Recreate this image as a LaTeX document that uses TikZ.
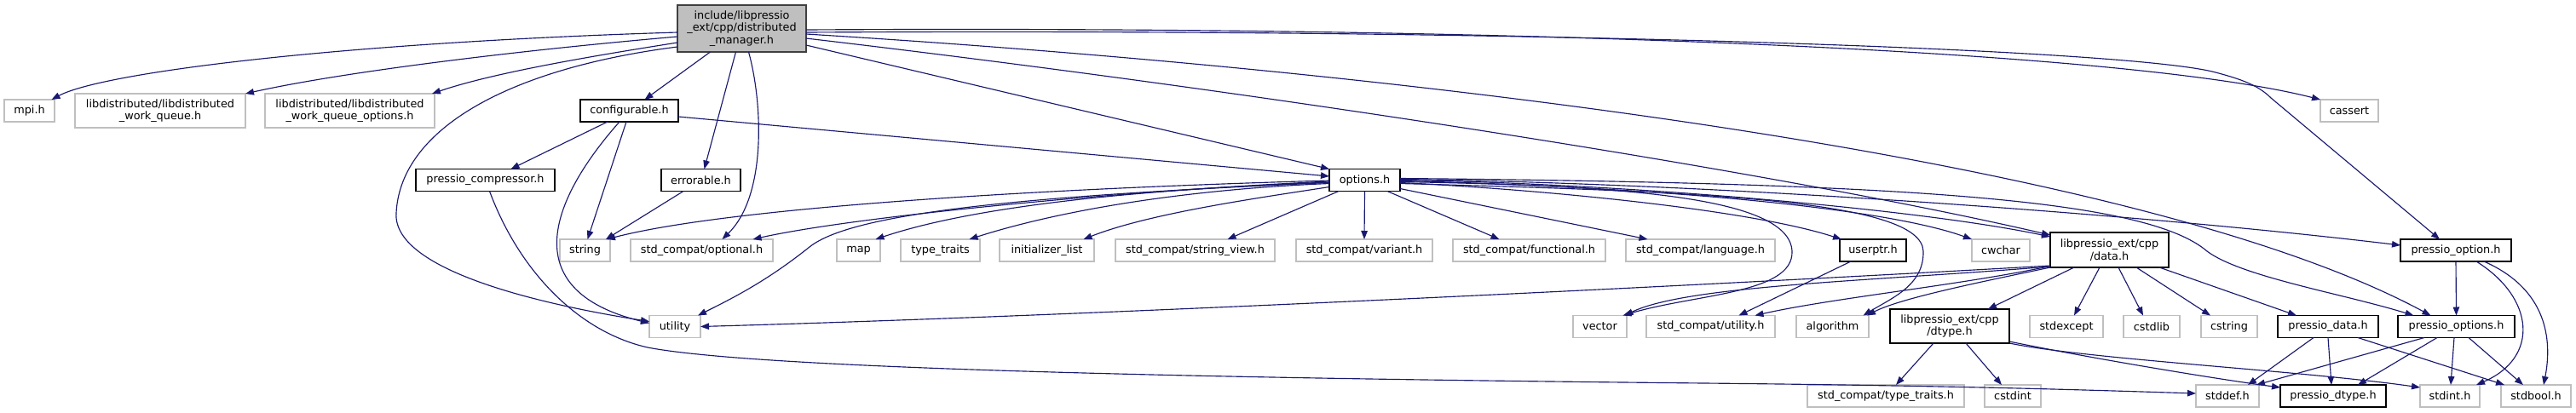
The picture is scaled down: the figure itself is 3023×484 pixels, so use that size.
\documentclass[tikz,border=0pt]{standalone}
\usepackage{fontspec}
\setmainfont{DejaVu Sans}
\usetikzlibrary{arrows.meta,calc}
\definecolor{gsev}{HTML}{BFBFBF}
\definecolor{edgeblue}{HTML}{191970}
\begin{document}
\begin{tikzpicture}[x=0.02cm,y=-0.02cm,
 every node/.style={font=\fontsize{7.3}{8.3}\selectfont, inner sep=0pt, outer sep=0pt, align=center},
 wh/.style 2 args={minimum width=#1*0.02cm, minimum height=#2*0.02cm},
 sys/.style={draw=gsev, line width=0.7pt, fill=white},
 doc/.style={draw=black, line width=1.1pt, fill=white},
 root/.style={draw=black!75, line width=1.1pt, fill=gsev},
 dep/.style={draw=edgeblue, line width=0.65pt, -{Triangle[length=0.2cm,width=0.15cm]}},
]
\useasboundingbox (0,0) rectangle (3023,484);
% rank 0
\node[root, wh={151}{55}] (main) at (870.5,33.5) {include/libpressio\\\_ext/cpp/distributed\\\_manager.h};
% rank 1
\node[sys, wh={59}{26}] (mpi) at (34.5,130) {mpi.h};
\node[sys, wh={200}{40}] (wq) at (188,130) {libdistributed/libdistributed\\\_work\_queue.h};
\node[sys, wh={199}{40}] (wqo) at (410.5,130) {libdistributed/libdistributed\\\_work\_queue\_options.h};
\node[doc, wh={115}{26}] (conf) at (738.5,130) {configurable.h};
\node[sys, wh={68}{26}] (cassert) at (2757,130) {cassert};
% rank 2
\node[doc, wh={163}{26}] (comp) at (569.5,211.5) {pressio\_compressor.h};
\node[doc, wh={93}{26}] (err) at (822.5,211.5) {errorable.h};
\node[doc, wh={83}{26}] (opts) at (1601.5,211.5) {options.h};
% rank 3
\node[sys, wh={59}{26}] (string) at (686.5,294) {string};
\node[sys, wh={167}{26}] (optional) at (823.5,294) {std\_compat/optional.h};
\node[sys, wh={51}{26}] (map) at (1007.5,294) {map};
\node[sys, wh={93}{26}] (typetraits) at (1103.5,294) {type\_traits};
\node[sys, wh={111}{26}] (initlist) at (1228.5,294) {initializer\_list};
\node[sys, wh={187}{26}] (strview) at (1402.5,294) {std\_compat/string\_view.h};
\node[sys, wh={160}{26}] (variant) at (1601,294) {std\_compat/variant.h};
\node[sys, wh={179}{26}] (functional) at (1794.5,294) {std\_compat/functional.h};
\node[sys, wh={175}{26}] (language) at (1995.5,294) {std\_compat/language.h};
\node[doc, wh={78}{26}] (userptr) at (2198,294) {userptr.h};
\node[sys, wh={68}{26}] (cwchar) at (2348,294) {cwchar};
\node[doc, wh={139}{41}] (data) at (2475.5,293.5) {libpressio\_ext/cpp\\/data.h};
\node[doc, wh={130}{26}] (option) at (2882,294) {pressio\_option.h};
% rank 4
\node[sys, wh={60}{26}] (utility) at (792,383.5) {utility};
\node[sys, wh={63}{26}] (vector) at (1877.5,383.5) {vector};
\node[sys, wh={151}{26}] (stdutil) at (2007.5,383.5) {std\_compat/utility.h};
\node[sys, wh={85}{26}] (algorithm) at (2150.5,383.5) {algorithm};
\node[doc, wh={140}{40}] (dtype) at (2288,383) {libpressio\_ext/cpp\\/dtype.h};
\node[sys, wh={86}{26}] (stdexcept) at (2425,383.5) {stdexcept};
\node[sys, wh={66}{26}] (cstdlib) at (2525,383.5) {cstdlib};
\node[sys, wh={66}{26}] (cstring) at (2616,383.5) {cstring};
\node[doc, wh={118}{26}] (pdata) at (2732,383.5) {pressio\_data.h};
\node[doc, wh={137}{26}] (poptions) at (2882.5,383.5) {pressio\_options.h};
% rank 5
\node[sys, wh={184}{26}] (sctt) at (2213,465) {std\_compat/type\_traits.h};
\node[sys, wh={66}{26}] (cstdint) at (2362,465) {cstdint};
\node[sys, wh={74}{26}] (stddef) at (2614,465) {stddef.h};
\node[doc, wh={124}{26}] (pdtype) at (2738,465) {pressio\_dtype.h};
\node[sys, wh={70}{26}] (stdint) at (2875,465) {stdint.h};
\node[sys, wh={82}{26}] (stdbool) at (2976,465) {stdbool.h};

% main
\draw[dep] ($(main.west)+(0,4.5)$) .. controls (400,50) and (120,85) .. ($(mpi.north)+(26,0)$);
\draw[dep] ($(main.west)+(0,9.5)$) .. controls (600,60) and (400,85) .. (wq.north east);
\draw[dep] ($(main.west)+(0,16.5)$) .. controls (700,65) and (580,85) .. ($(wqo.north east)+(-3,0)$);
\draw[dep] ($(main.west)+(0,21.5)$) .. controls (600,80) and (470,150) .. (465,250) .. controls (460,320) and (650,360) .. ($(utility.west)+(0,-6)$);
\draw[dep] ($(main.south)+(-37,0)$) -- ($(conf.north)+(18,0)$);
\draw[dep] ($(main.south)+(-7,0)$) -- ($(err.north)+(4,0)$);
\draw[dep] ($(main.south)+(8,0)$) .. controls (895,120) and (900,230) .. ($(optional.north)+(24,0)$);
\draw[dep] ($(main.east)+(0,19.5)$) -- (opts.north west);
\draw[dep] ($(main.east)+(0,11.5)$) .. controls (1500,110) and (2100,205) .. ($(data.north west)+(0,3)$);
\draw[dep] ($(main.east)+(0,6.5)$) .. controls (1600,80) and (2500,180) .. ($(poptions.north)+(-30,0)$);
\draw[dep] ($(main.east)+(0,4.5)$) .. controls (1800,33) and (2500,58) .. (2600,85) .. controls (2630,93) and (2650,100) .. (2665,115) -- ($(option.north)+(-19,0)$);
\draw[dep] ($(main.east)+(0,1.5)$) .. controls (1800,30) and (2500,60) .. (cassert.north west);
% configurable
\draw[dep] ($(conf.south)+(-25.5,0)$) -- ($(comp.north)+(30,0)$);
\draw[dep] ($(conf.south)+(-3.5,0)$) -- ($(string.north)+(3,0)$);
\draw[dep] ($(conf.south)+(-11.5,0)$) .. controls (650,230) and (600,340) .. ($(utility.west)+(0,-4)$);
\draw[dep] ($(conf.east)+(0,7)$) -- ($(opts.west)+(0,-4.5)$);
% errorable
\draw[dep] ($(err.south)+(-20.5,0)$) -- ($(string.north east)+(-5,0)$);
% compressor
\draw[dep] ($(comp.south)+(5,0)$) .. controls (610,320) and (680,390) .. (760,408) .. controls (900,435) and (1500,445) .. (2000,450) .. controls (2300,453) and (2450,458) .. ($(stddef.west)+(0,-3)$);
% options
\draw[dep] ($(opts.west)+(0,0.5)$) .. controls (1200,222) and (850,245) .. ($(string.north east)+(-4,0)$);
\draw[dep] ($(opts.west)+(0,1.5)$) .. controls (1300,225) and (1000,255) .. ($(optional.north)+(60,0)$);
\draw[dep] ($(opts.west)+(0,3)$) .. controls (1200,230) and (1000,250) .. (950,290) .. controls (900,330) and (860,350) .. ($(utility.north east)+(-3,0)$);
\draw[dep] ($(opts.west)+(0,2.5)$) .. controls (1350,222) and (1150,240) .. ($(map.north)+(20,0)$);
\draw[dep] ($(opts.west)+(0,4)$) .. controls (1400,222) and (1250,245) .. ($(typetraits.north)+(34,0)$);
\draw[dep] ($(opts.west)+(0,8)$) .. controls (1480,232) and (1350,250) .. ($(initlist.north)+(43,0)$);
\draw[dep] ($(opts.south west)+(11,0)$) -- ($(strview.north)+(38,0)$);
\draw[dep] (opts.south) -- (variant.north);
\draw[dep] ($(opts.south east)+(-15,0)$) -- ($(functional.north)+(-35,0)$);
\draw[dep] ($(opts.east)+(0,10)$) -- ($(language.north)+(-62,0)$);
\draw[dep] ($(opts.east)+(0,3)$) .. controls (1800,222) and (2050,245) .. ($(userptr.north west)+(2,0)$);
\draw[dep] ($(opts.east)+(0,1)$) .. controls (1900,218) and (2200,240) .. (cwchar.north west);
\draw[dep] ($(opts.east)+(0,0)$) .. controls (1900,215) and (2250,245) .. ($(data.north west)+(0,5)$);
\draw[dep] ($(opts.east)+(0,-1)$) .. controls (2000,215) and (2500,250) .. ($(option.west)+(0,-6)$);
\draw[dep] ($(opts.east)+(0,-2)$) .. controls (2250,215) and (2520,235) .. (2590,295) .. controls (2630,325) and (2750,345) .. ($(poptions.north)+(-50,0)$);
\draw[dep] ($(opts.east)+(0,2)$) .. controls (1900,218) and (2100,230) .. (2103,295) .. controls (2105,345) and (1990,345) .. ($(vector.north)+(27,0)$);
\draw[dep] ($(opts.east)+(0,4)$) .. controls (2000,225) and (2255,235) .. (2257,295) .. controls (2258,335) and (2220,350) .. ($(algorithm.north)+(36,0)$);
% userptr
\draw[dep] ($(userptr.south west)+(13,0)$) -- ($(stdutil.north)+(33,0)$);
% data
\draw[dep] ($(data.south west)+(0,-1)$) .. controls (2200,330) and (1980,335) .. ($(vector.north)+(29,0)$);
\draw[dep] ($(data.south west)+(0,-1.5)$) .. controls (2300,335) and (2150,350) .. ($(stdutil.north)+(52,0)$);
\draw[dep] ($(data.south west)+(0,0)$) .. controls (2330,330) and (2230,350) .. ($(algorithm.north east)+(-2,0)$);
\draw[dep] ($(data.south west)+(0,-2)$) .. controls (2000,335) and (1300,370) .. (utility.east);
\draw[dep] ($(data.south)+(-41.5,0)$) -- ($(dtype.north)+(45,0)$);
\draw[dep] ($(data.south)+(-11.5,0)$) -- ($(stdexcept.north)+(9,0)$);
\draw[dep] ($(data.south)+(10.5,0)$) -- ($(cstdlib.north)+(-10,0)$);
\draw[dep] ($(data.south)+(31.5,0)$) -- ($(cstring.north)+(-22,0)$);
\draw[dep] ($(data.south)+(58.5,0)$) -- ($(pdata.north)+(-37,0)$);
% dtype
\draw[dep] ($(dtype.south)+(-19,0)$) -- ($(sctt.north)+(12,0)$);
\draw[dep] ($(dtype.south)+(19,0)$) -- ($(cstdint.north)+(-13,0)$);
\draw[dep] ($(dtype.south east)+(0,-2)$) .. controls (2450,420) and (2600,445) .. ($(pdtype.north west)+(0,3)$);
\draw[dep] ($(dtype.south east)+(0,0)$) .. controls (2450,422) and (2700,435) .. ($(stdint.north west)+(0,3)$);
% pressio_data
\draw[dep] ($(pdata.south)+(-17,0)$) -- ($(stddef.north)+(24,0)$);
\draw[dep] (pdata.south) -- ($(pdtype.north)+(-2,0)$);
\draw[dep] ($(pdata.south)+(35,0)$) -- ($(stdbool.north)+(-37,0)$);
% pressio_options
\draw[dep] ($(poptions.south)+(-37.5,0)$) -- ($(stddef.north east)+(-3,0)$);
\draw[dep] ($(poptions.south)+(-22.5,0)$) -- ($(pdtype.north)+(29,0)$);
\draw[dep] ($(poptions.south)+(-2.5,0)$) -- ($(stdint.north)+(1,0)$);
\draw[dep] ($(poptions.south)+(14.5,0)$) -- ($(stdbool.north)+(-15,0)$);
% pressio_option
\draw[dep] (option.south) -- (poptions.north);
\draw[dep] ($(option.south)+(24,0)$) .. controls (2975,350) and (2980,420) .. ($(stdint.north east)+(-4,0)$);
\draw[dep] ($(option.south)+(33,0)$) .. controls (2990,340) and (2995,400) .. ($(stdbool.north)+(9,0)$);
\end{tikzpicture}
\end{document}
